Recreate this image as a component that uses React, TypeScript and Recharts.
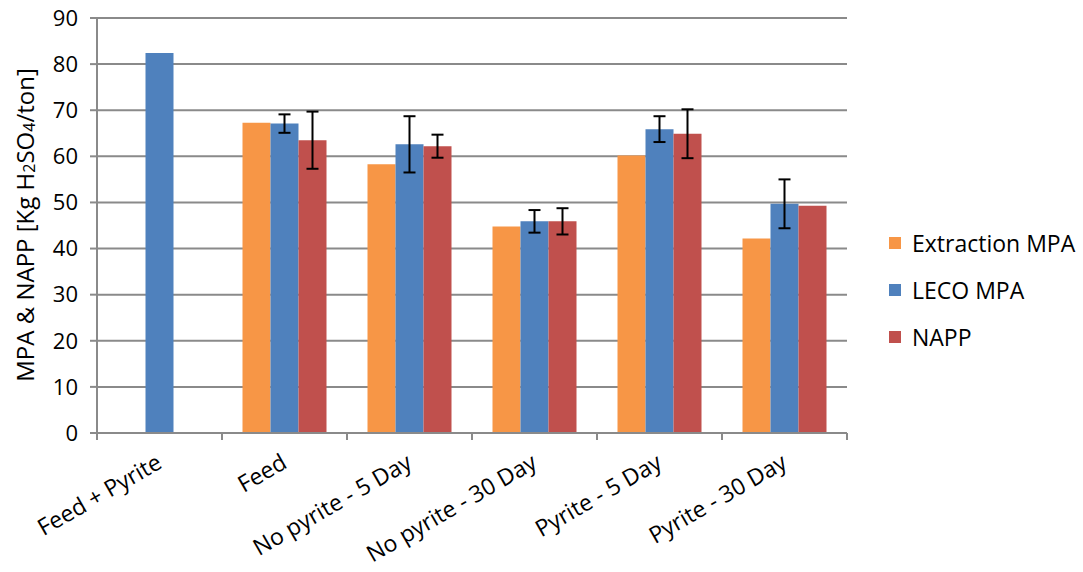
import { BarChart, Bar, XAxis, YAxis, CartesianGrid, ErrorBar } from 'recharts';

const categories = ['Feed + Pyrite', 'Feed', 'No pyrite - 5 Day', 'No pyrite - 30 Day', 'Pyrite - 5 Day', 'Pyrite - 30 Day'];
const extractionMpa = [null, 67.3, 58.3, 44.8, 60.2, 42.2];
const lecoMpa = [82.4, 67.1, 62.6, 45.9, 65.9, 49.7];
const napp = [null, 63.5, 62.2, 45.9, 64.9, 49.3];
const lecoErr = [null, 2.0, 6.1, 2.45, 2.8, 5.3];
const nappErr = [null, 6.2, 2.5, 2.85, 5.3, null];
const yTicks = [0, 10, 20, 30, 40, 50, 60, 70, 80, 90];

const data = categories.map((name, i) => ({
  name,
  extraction: extractionMpa[i],
  leco: lecoMpa[i],
  napp: napp[i],
  lecoErr: lecoErr[i],
  nappErr: nappErr[i],
}));

const FONT = '"Open Sans", sans-serif';
const AXIS_GRAY = '#8a8a8a';

const series = [
  { key: 'extraction', name: 'Extraction MPA', color: '#F79646' },
  { key: 'leco', name: 'LECO MPA', color: '#4F81BD' },
  { key: 'napp', name: 'NAPP', color: '#C0504D' },
];

function XTick(props: any) {
  const { x, y, payload, index, width } = props;
  const band = width / categories.length;
  const top = y - 7;
  const ax = x + 4;
  const ay = y + 27;
  return (
    <g>
      <line x1={x - band / 2} y1={top} x2={x - band / 2} y2={y} stroke={AXIS_GRAY} strokeWidth={2} />
      {index === categories.length - 1 && (
        <line x1={x + band / 2} y1={top} x2={x + band / 2} y2={y} stroke={AXIS_GRAY} strokeWidth={2} />
      )}
      <text
        x={ax}
        y={ay}
        textAnchor="end"
        fontSize={23}
        fontFamily={FONT}
        fill="#000"
        transform={`rotate(-30, ${ax}, ${ay})`}
      >
        {payload.value}
      </text>
    </g>
  );
}

function YLabel() {
  const cx = 24;
  const cy = 225;
  return (
    <text
      x={cx}
      y={cy}
      textAnchor="middle"
      dominantBaseline="central"
      fontSize={24}
      fontFamily={FONT}
      fill="#000"
      transform={`rotate(-90, ${cx}, ${cy})`}
    >
      MPA &amp; NAPP [Kg H
      <tspan fontSize={16} dy={5}>2</tspan>
      <tspan dy={-5}>SO</tspan>
      <tspan fontSize={16} dy={5}>4</tspan>
      <tspan dy={-5}>/ton]</tspan>
    </text>
  );
}

function LegendBox() {
  return (
    <div
      style={{
        position: 'absolute',
        left: 889,
        top: 219,
        fontFamily: FONT,
        fontSize: 23,
        color: '#000',
      }}
    >
      {series.map((s) => (
        <div key={s.key} style={{ display: 'flex', alignItems: 'center', height: 47 }}>
          <span style={{ display: 'inline-block', width: 12, height: 12, background: s.color, marginRight: 11 }} />
          <span>{s.name}</span>
        </div>
      ))}
    </div>
  );
}

export default function App() {
  return (
    <div style={{ position: 'absolute', left: 0, top: 0, width: 1083, height: 572, background: '#fff' }}>
      <BarChart
        width={1083}
        height={572}
        data={data}
        margin={{ top: 18, right: 236, left: 0, bottom: 0 }}
        barCategoryGap="16.4%"
        barGap={0}
      >
        <CartesianGrid vertical={false} stroke={AXIS_GRAY} strokeWidth={2} />
        <XAxis
          dataKey="name"
          height={139}
          interval={0}
          axisLine={{ stroke: AXIS_GRAY, strokeWidth: 2 }}
          tickLine={false}
          tickSize={7}
          tickMargin={0}
          tick={<XTick />}
        />
        <YAxis
          width={97}
          domain={[0, 90]}
          ticks={yTicks}
          interval={0}
          axisLine={{ stroke: AXIS_GRAY, strokeWidth: 2 }}
          tickLine={{ stroke: AXIS_GRAY, strokeWidth: 2 }}
          tickSize={7}
          tickMargin={12}
          tick={{ fontSize: 22, fontFamily: FONT, fill: '#000' }}
          label={<YLabel />}
        />
        {series.map((s) => (
          <Bar key={s.key} dataKey={s.key} name={s.name} fill={s.color} isAnimationActive={false}>
            {s.key === 'leco' && (
              <ErrorBar dataKey="lecoErr" width={6} stroke="#000" strokeWidth={2} direction="y" />
            )}
            {s.key === 'napp' && (
              <ErrorBar dataKey="nappErr" width={6} stroke="#000" strokeWidth={2} direction="y" />
            )}
          </Bar>
        ))}
      </BarChart>
      <LegendBox />
    </div>
  );
}
